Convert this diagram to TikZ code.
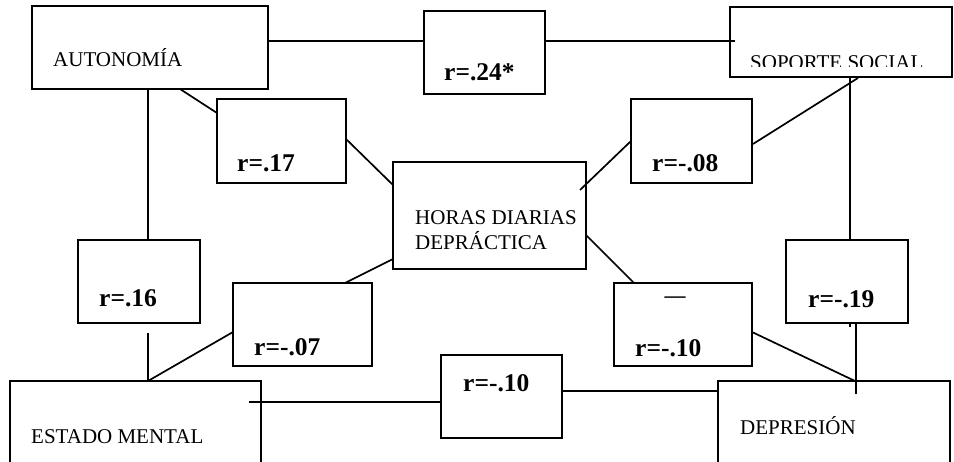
\documentclass[tikz,border=0pt]{standalone}
\usepackage{fontspec}
\setmainfont{Liberation Serif}
\usetikzlibrary{calc}
\tikzset{
  box/.style={draw, line width=1.7pt, rectangle, inner sep=0pt, outer sep=0pt},
  txt/.style={font=\fontsize{21}{25}\selectfont, inner sep=0pt, anchor=base west},
  lbl/.style={font=\fontsize{25.5}{30}\selectfont\bfseries, inner sep=0pt, anchor=base west},
  conn/.style={line width=1.7pt}
}
\begin{document}
\begin{tikzpicture}[x=1pt,y=-1pt]
\useasboundingbox (0,0) rectangle (954,462);
\fill[white] (0,0) rectangle (954,462);
\clip (0,0) rectangle (954,462);
% boxes
\node[box, minimum width=236pt, minimum height=83pt] (auto) at (150,47.5) {};
\node[box, minimum width=121pt, minimum height=83pt] (r24) at (484.5,52.5) {};
\node[box, minimum width=222pt, minimum height=70pt] (sop) at (841,42) {};
\node[box, minimum width=129pt, minimum height=84pt] (r17) at (281.5,141) {};
\node[box, minimum width=121pt, minimum height=84pt] (r08) at (691.5,141) {};
\node[box, minimum width=193pt, minimum height=107pt] (horas) at (489.5,215.5) {};
\node[box, minimum width=122pt, minimum height=83pt] (r16) at (139,281.5) {};
\node[box, minimum width=122pt, minimum height=83pt] (r19) at (847,281.5) {};
\node[box, minimum width=139pt, minimum height=83pt] (r07) at (302.5,324.5) {};
\node[box, minimum width=138pt, minimum height=83pt] (r10a) at (683,324.5) {};
\node[box, minimum width=121pt, minimum height=83pt] (r10b) at (501.5,396.5) {};
\node[box, minimum width=251pt, minimum height=100pt] (estado) at (135.5,431) {};
\node[box, minimum width=232pt, minimum height=100pt] (depr) at (834,431) {};
% texts
\node[txt] (tauto) at (53,67) {AUTONOMÍA};
\begin{scope}
\clip (730,7) rectangle (952,67);
\node[txt] (tsop) at (750,70) {SOPORTE SOCIAL};
\end{scope}
\node[txt] (th1) at (415,225) {HORAS DIARIAS};
\node[txt] (th2) at (415,250) {DEPRÁCTICA};
\node[txt] (test) at (31,443) {ESTADO MENTAL};
\node[txt] (tdep) at (740,435) {DEPRESIÓN};
\node[lbl] (t24) at (444,81) {r=.24*};
\node[lbl] (t17) at (237,172) {r=.17};
\node[lbl] (t08) at (652,172) {r=-.08};
\node[lbl] (t16) at (99,307) {r=.16};
\node[lbl] (t19) at (808,308) {r=-.19};
\node[lbl] (t07) at (254,356) {r=-.07};
\node[lbl] (t10a) at (635,357) {r=-.10};
\node[font=\fontsize{21}{25}\selectfont\bfseries, inner sep=0pt] (dash) at (675,300) {---};
\node[lbl] (t10b) at (463,392) {r=-.10};
% connectors
\draw[conn] ($(auto.east)+(0,-6.5)$) -- ($(r24.west)+(0,-11.5)$);
\draw[conn] ($(r24.east)+(0,-11.5)$) -- ($(sop.west)+(5,-1)$);
\draw[conn] ($(auto.south)+(30,0)$) -- ($(r17.west)+(0,-28)$);
\draw[conn] ($(r17.east)+(0,-2)$) -- ($(horas.west)+(0,-30.5)$);
\draw[conn] ($(auto.south)+(-2,0)$) -- ($(r16.north)+(9,0)$);
\draw[conn] ($(r16.south)+(9,10)$) -- ($(estado.north)+(12.5,0)$);
\draw[conn] ($(horas.west)+(0,43.5)$) -- ($(r07.north)+(42.5,0)$);
\draw[conn] ($(r07.west)+(0,7.5)$) -- ($(estado.north)+(12.5,0)$);
\draw[conn] ($(estado.north)+(113.5,21)$) -- ($(r10b.west)+(0,5.5)$);
\draw[conn] ($(r10b.east)+(0,-5.5)$) -- ($(depr.north west)+(0,10)$);
\draw[conn] ($(horas.east)+(0,19.5)$) -- ($(r10a.north)+(-49,0)$);
\draw[conn] ($(r10a.east)+(0,7.5)$) -- ($(depr.north)+(21,0)$);
\draw[conn] ($(sop.south)+(17,1)$) -- ($(r08.east)+(1,3)$);
\draw[conn] (r08.west) -- ($(horas.north east)+(-6,28)$);
\draw[conn] ($(sop.south)+(9,0)$) -- ($(r19.north)+(3,0)$);
\draw[conn] ($(r19.south)+(9,0)$) -- ($(depr.north)+(22,13)$);
\draw[conn] ($(r19.south)+(3,0)$) -- ($(r19.south)+(3,4)$);
\end{tikzpicture}
\end{document}
